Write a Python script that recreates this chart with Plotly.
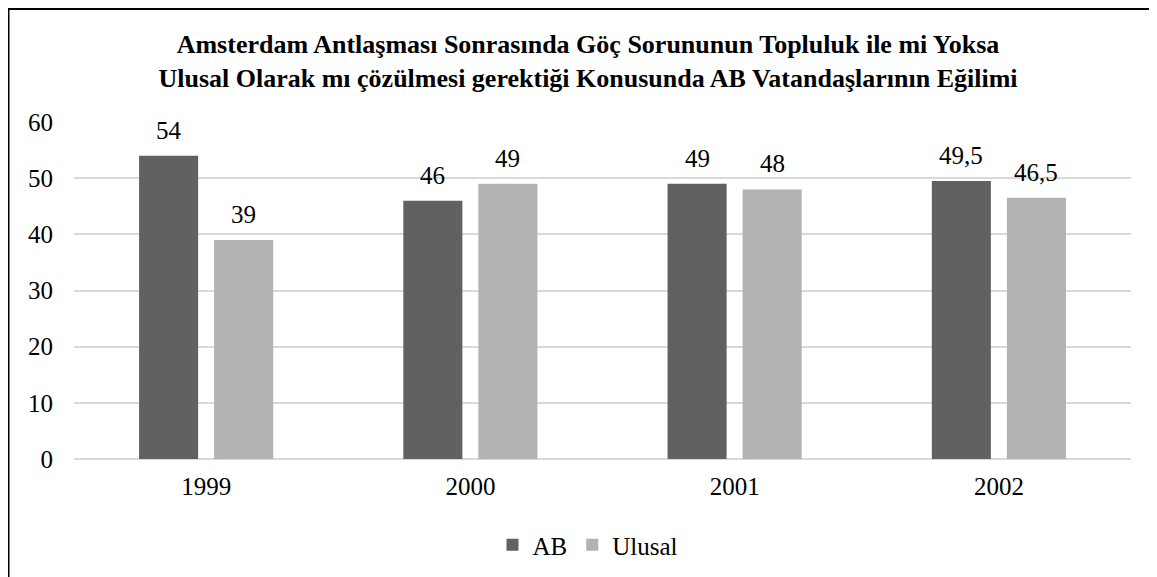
import plotly.graph_objects as go

years = ["1999", "2000", "2001", "2002"]
ab_values = [54, 46, 49, 49.5]
ulusal_values = [39, 49, 48, 46.5]
ab_labels = ["54", "46", "49", "49,5"]
ulusal_labels = ["39", "49", "48", "46,5"]
y_ticks = [0, 10, 20, 30, 40, 50, 60]

title_text = ("<b>Amsterdam Antlaşması Sonrasında Göç Sorununun Topluluk ile mi Yoksa<br>"
              "Ulusal Olarak mı çözülmesi gerektiği Konusunda AB Vatandaşlarının Eğilimi</b>")

FONT = "Liberation Serif, Times New Roman, serif"
AB_COLOR = "#616161"
UL_COLOR = "#b2b2b2"
TXT = 25

# page body has an 8px offset; figure coordinates = window coordinates - 8
OFF = 8
W, H = 1157, 577
L, T = 74 - OFF, 122 - OFF
R = W - (1131 - OFF)
B = H - (459 - OFF)
pw, ph = W - L - R, H - T - B

def px_to_paper_x(px):
    return (px - OFF - L) / pw

def px_to_paper_y(py):
    return (H - B - (py - OFF)) / ph

fig = go.Figure()
fig.add_trace(go.Bar(name="AB", x=years, y=ab_values,
                     marker=dict(color=AB_COLOR, line=dict(width=0))))
fig.add_trace(go.Bar(name="Ulusal", x=years, y=ulusal_values,
                     marker=dict(color=UL_COLOR, line=dict(width=0))))

SLOT = 37.5  # half of the per-bar slot in px
for i, (v, lab) in enumerate(zip(ab_values, ab_labels)):
    fig.add_annotation(x=i, y=v, text=lab, showarrow=False, xshift=-SLOT,
                       yanchor="bottom", yshift=10,
                       font=dict(family=FONT, size=TXT, color="#000000"))
for i, (v, lab) in enumerate(zip(ulusal_values, ulusal_labels)):
    fig.add_annotation(x=i, y=v, text=lab, showarrow=False, xshift=SLOT,
                       yanchor="bottom", yshift=10,
                       font=dict(family=FONT, size=TXT, color="#000000"))

fig.update_layout(
    width=W, height=H,
    margin=dict(l=L, r=R, t=T, b=B, pad=0),
    paper_bgcolor="white", plot_bgcolor="white",
    barmode="group", bargap=0.432, bargroupgap=0.213,
    font=dict(family=FONT, size=TXT, color="#000000"),
    title=dict(text=title_text, x=px_to_paper_x(588), xanchor="center", xref="paper",
               y=1 - (53 - OFF) / H, yanchor="middle",
               font=dict(family=FONT, size=26, color="#000000")),
    xaxis=dict(type="category", range=[-0.5, len(years) - 0.5], showgrid=False,
               showline=False, ticks="", tickfont=dict(size=TXT), ticklabelstandoff=10),
    yaxis=dict(range=[0, 60], tickvals=y_ticks, showgrid=True, gridcolor="#d9d9d9",
               gridwidth=2, zeroline=True, zerolinecolor="#d9d9d9", zerolinewidth=2,
               showline=False, ticks="", tickfont=dict(size=TXT), ticklabelstandoff=20),
    legend=dict(orientation="h", x=px_to_paper_x(588), xanchor="center",
                y=px_to_paper_y(545), yanchor="middle",
                font=dict(family=FONT, size=TXT), itemwidth=30,
                traceorder="normal", bgcolor="rgba(0,0,0,0)"),
    showlegend=True,
)

# outer chart border (left and top edges visible)
fig.add_shape(type="line", xref="paper", yref="paper",
              x0=px_to_paper_x(8.5), x1=px_to_paper_x(8.5),
              y0=px_to_paper_y(8), y1=px_to_paper_y(600),
              line=dict(color="black", width=2))
fig.add_shape(type="line", xref="paper", yref="paper",
              x0=px_to_paper_x(7.5), x1=px_to_paper_x(1170),
              y0=px_to_paper_y(9), y1=px_to_paper_y(9),
              line=dict(color="black", width=2))

fig.write_html("out.html")
